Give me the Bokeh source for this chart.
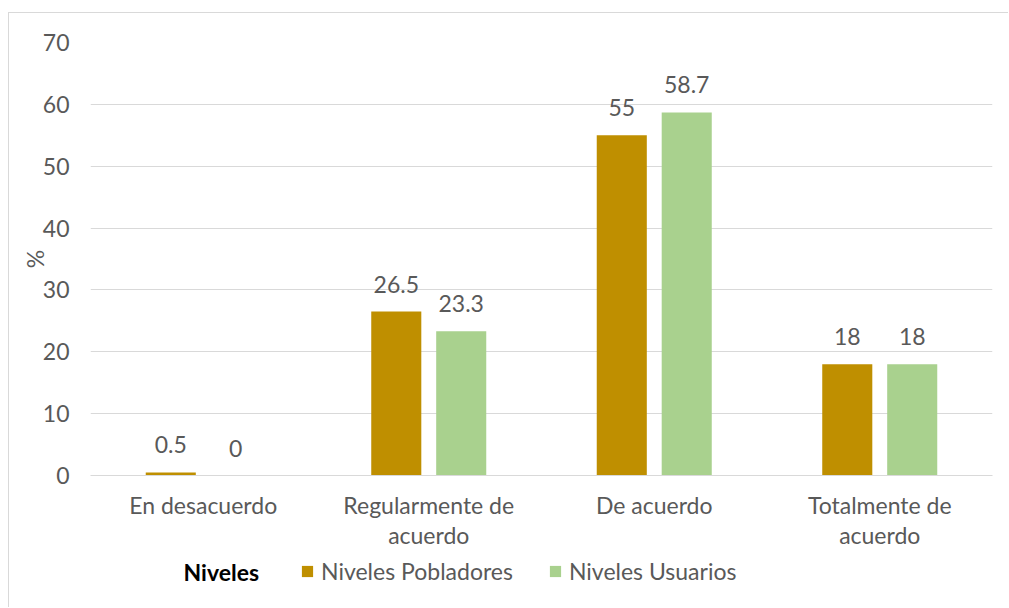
from bokeh.plotting import figure
from bokeh.layouts import column
from bokeh.models import ColumnDataSource, FactorRange, LabelSet, Legend, LegendItem, Range1d, Label
from bokeh.core.properties import value
from bokeh.transform import dodge
from bokeh.embed import file_html
from bokeh.resources import INLINE

categories = ["En desacuerdo", "Regularmente de\nacuerdo", "De acuerdo", "Totalmente de\nacuerdo"]
pobladores = [0.5, 26.5, 55, 18]
usuarios = [0, 23.3, 58.7, 18]
series_names = ["Niveles Pobladores", "Niveles Usuarios"]
legend_title = "Niveles"
y_ticks = [0, 10, 20, 30, 40, 50, 60, 70]

GOLD = "#BF8F00"
GREEN = "#A9D18E"
TXT = "#595959"
FONT = "Lato"
FS = "23px"

src = ColumnDataSource(dict(
    cat=categories,
    pob=pobladores,
    usu=usuarios,
    pob_lbl=[f"{v:g}" for v in pobladores],
    usu_lbl=[f"{v:g}" for v in usuarios],
))

p = figure(x_range=FactorRange(*categories), y_range=Range1d(0, 70),
           frame_width=902, frame_height=433, output_backend="svg", toolbar_location=None,
           min_border_left=81, min_border_right=16, min_border_top=29, min_border_bottom=80)
p.outline_line_color = None
p.x_range.range_padding = 0

r1 = p.vbar(x=dodge("cat", -0.144, range=p.x_range), top="pob", width=0.222, source=src,
            fill_color=GOLD, line_color=None)
r2 = p.vbar(x=dodge("cat", 0.144, range=p.x_range), top="usu", width=0.222, source=src,
            fill_color=GREEN, line_color=None)

for col, off in (("pob_lbl", -0.144), ("usu_lbl", 0.144)):
    ycol = "pob" if col == "pob_lbl" else "usu"
    ls = LabelSet(x=dodge("cat", off, range=p.x_range), y=ycol, text=col, source=src,
                  y_offset=19, text_align="center", text_baseline="alphabetic",
                  text_color=TXT, text_font=value(FONT), text_font_size=value(FS))
    p.add_layout(ls)

p.yaxis.ticker = y_ticks
p.yaxis.axis_line_color = None
p.yaxis.major_tick_line_color = None
p.yaxis.minor_tick_line_color = None
p.yaxis.major_label_text_color = TXT
p.yaxis.major_label_text_font = FONT
p.yaxis.major_label_text_font_size = FS
p.yaxis.major_label_standoff = 15
p.yaxis.axis_label = "%"
p.yaxis.axis_label_text_color = TXT
p.yaxis.axis_label_text_font = FONT
p.yaxis.axis_label_text_font_size = FS
p.yaxis.axis_label_text_font_style = "normal"
p.yaxis.axis_label_standoff = -9

p.xaxis.axis_line_color = "#D9D9D9"
p.xaxis.major_tick_line_color = None
p.xaxis.minor_tick_line_color = None
p.xaxis.major_label_text_color = TXT
p.xaxis.major_label_text_font = FONT
p.xaxis.major_label_text_font_size = FS
p.xaxis.major_label_text_line_height = 1.1
p.xaxis.major_label_standoff = 9

p.xgrid.grid_line_color = None
p.ygrid.grid_line_color = "#D9D9D9"
p.ygrid.grid_line_width = 1

# legend strip (its renderers have zero height and only supply legend swatches)
q = figure(x_range=Range1d(0, 1), y_range=Range1d(0, 1), frame_width=902, height=52,
           output_backend="svg", toolbar_location=None,
           x_axis_location=None, y_axis_location=None,
           min_border_left=81, min_border_right=16, min_border_top=0, min_border_bottom=0)
q.outline_line_color = None
q.xgrid.grid_line_color = None
q.ygrid.grid_line_color = None
d1 = q.vbar(x=[0.5], top=[0], bottom=[0], width=0.1, fill_color=GOLD, line_color=None)
d2 = q.vbar(x=[0.5], top=[0], bottom=[0], width=0.1, fill_color=GREEN, line_color=None)

legend = Legend(items=[LegendItem(label=series_names[0], renderers=[d1]),
                       LegendItem(label=series_names[1], renderers=[d2])],
                orientation="horizontal",
                label_text_font=FONT, label_text_font_size=FS, label_text_color=TXT,
                glyph_width=14, glyph_height=14, label_standoff=7, spacing=35,
                border_line_color=None, background_fill_alpha=0, margin=0, padding=0,
                location=(210, 22))
q.add_layout(legend, "center")

title = Label(x=93, y=36, x_units="screen", y_units="screen", text=legend_title,
              text_font=FONT, text_font_size=FS, text_font_style="bold",
              text_color="black", text_baseline="middle", text_align="left")
q.add_layout(title)

layout = column(p, q, spacing=0)
layout.styles = {"border-top": "1px solid #D9D9D9", "border-left": "1px solid #D9D9D9",
                 "margin-left": "8px", "margin-top": "12px"}

open("out.html", "w").write(file_html(layout, INLINE))
